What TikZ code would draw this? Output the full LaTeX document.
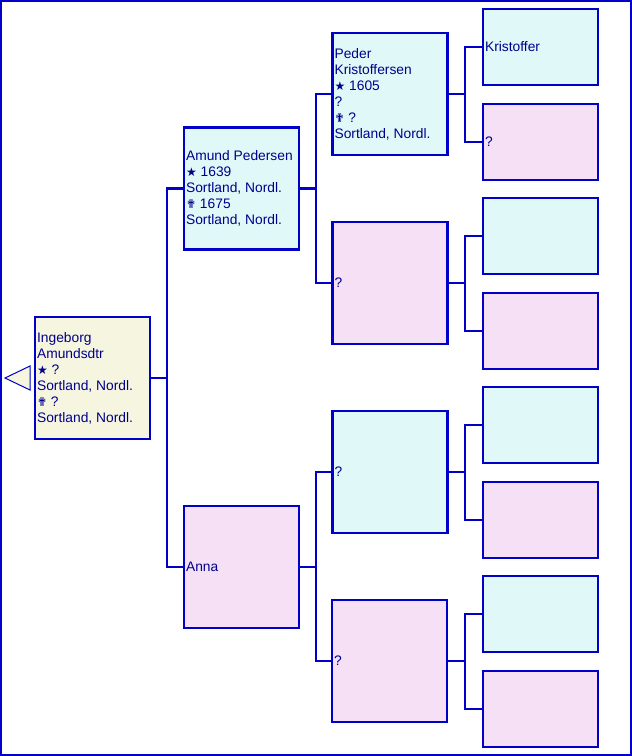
\documentclass[tikz,border=0pt]{standalone}
\usepackage{fontspec}
\setmainfont{Liberation Sans}
\newfontfamily\symfont{DejaVu Sans}
\definecolor{lineblue}{RGB}{0,0,200}
\definecolor{textblue}{RGB}{0,0,140}
\definecolor{mfill}{RGB}{224,248,248}
\definecolor{ffill}{RGB}{246,224,246}
\definecolor{pfill}{RGB}{245,245,224}
\newcommand{\bornsym}{{\symfont\fontsize{12}{16}\selectfont ★}}
\newcommand{\diedsym}{{\symfont\fontsize{12}{16}\selectfont ✟}}
\begin{document}
\begin{tikzpicture}[x=1pt,y=-1pt,
  bigbox/.style={draw=lineblue,line width=2.2pt,minimum width=115pt,minimum height=122pt,inner sep=0pt},
  smallbox/.style={draw=lineblue,line width=2.2pt,minimum width=115pt,minimum height=76pt,inner sep=0pt},
  txt/.style={anchor=west,align=left,inner xsep=3pt,inner ysep=0pt,text=textblue,font=\fontsize{13.8}{16}\selectfont},
  conn/.style={draw=lineblue,line width=2.2pt}]
\useasboundingbox (0,0) rectangle (632,756);
\draw[lineblue,line width=2.2pt] (1,1) rectangle (631,755);
% triangle
\draw[lineblue,line width=1pt,fill=pfill] (30,366) -- (5,378) -- (30,390) -- cycle;
% generation 0
\node[bigbox,fill=pfill] (p0) at (92.5,378) {};
% generation 1
\node[bigbox,fill=mfill] (p1) at (241.5,188.5) {};
\node[bigbox,fill=ffill] (p2) at (241.5,567) {};
% generation 2
\node[bigbox,fill=mfill] (p3) at (390,94) {};
\node[bigbox,fill=ffill] (p4) at (390,283) {};
\node[bigbox,fill=mfill] (p5) at (390,472) {};
\node[bigbox,fill=ffill] (p6) at (389.5,661) {};
% generation 3
\node[smallbox,fill=mfill] (p7) at (540.5,47) {};
\node[smallbox,fill=ffill] (p8) at (540.5,142) {};
\node[smallbox,fill=mfill] (p9) at (540.5,236) {};
\node[smallbox,fill=ffill] (p10) at (540.5,331) {};
\node[smallbox,fill=mfill] (p11) at (540.5,425) {};
\node[smallbox,fill=ffill] (p12) at (540.5,520) {};
\node[smallbox,fill=mfill] (p13) at (540.5,614) {};
\node[smallbox,fill=ffill] (p14) at (540.5,709) {};
% texts
\node[txt] (t0) at (p0.west) {Ingeborg\\Amundsdtr\\\bornsym\ ?\\Sortland, Nordl.\\\diedsym\ ?\\Sortland, Nordl.};
\node[txt] (t1) at (p1.west) {Amund Pedersen\\\bornsym\ 1639\\Sortland, Nordl.\\\diedsym\ 1675\\Sortland, Nordl.};
\node[txt] (t2) at (p2.west) {Anna};
\node[txt] (t3) at (p3.west) {Peder\\Kristoffersen\\\bornsym\ 1605\\?\\\diedsym\ ?\\Sortland, Nordl.};
\node[txt] (t4) at (p4.west) {?};
\node[txt] (t5) at (p5.west) {?};
\node[txt] (t6) at (p6.west) {?};
\node[txt] (t7) at (p7.west) {Kristoffer};
\node[txt] (t8) at (p8.west) {?};
% connectors
\coordinate (j0) at (167,378);
\draw[conn] (p0.east) -- (j0) |- (p1.west);
\draw[conn] (j0) |- (p2.west);
\coordinate (j1) at (316,188.5);
\draw[conn] (p1.east) -- (j1) |- (p3.west);
\draw[conn] (j1) |- (p4.west);
\coordinate (j2) at (316,567);
\draw[conn] (p2.east) -- (j2) |- (p5.west);
\draw[conn] (j2) |- (p6.west);
\coordinate (j3) at (465,94);
\draw[conn] (p3.east) -- (j3) |- (p7.west);
\draw[conn] (j3) |- (p8.west);
\coordinate (j4) at (465,283);
\draw[conn] (p4.east) -- (j4) |- (p9.west);
\draw[conn] (j4) |- (p10.west);
\coordinate (j5) at (465,472);
\draw[conn] (p5.east) -- (j5) |- (p11.west);
\draw[conn] (j5) |- (p12.west);
\coordinate (j6) at (465,661);
\draw[conn] (p6.east) -- (j6) |- (p13.west);
\draw[conn] (j6) |- (p14.west);
\end{tikzpicture}
\end{document}
